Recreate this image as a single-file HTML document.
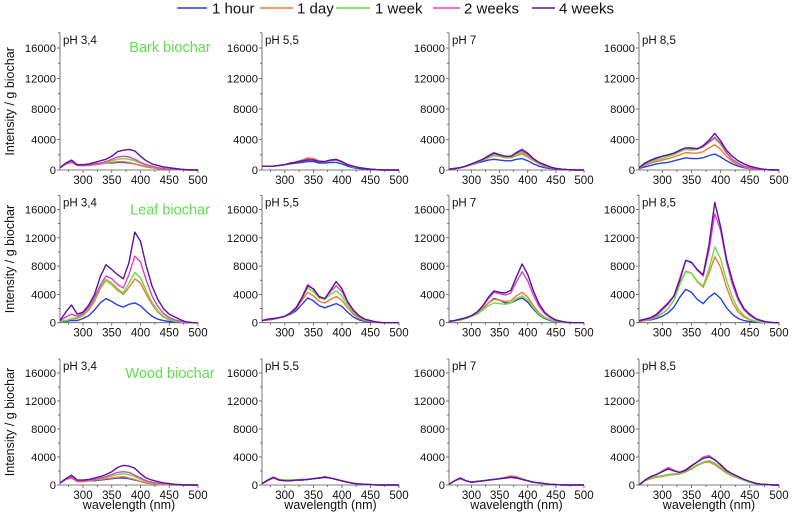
<!DOCTYPE html>
<html><head><meta charset="utf-8"><style>
html,body{margin:0;padding:0;background:#fff;}
svg{display:block;font-family:"Liberation Sans",Arial,sans-serif;}
</style></head><body>
<svg id="chart" width="794" height="514" viewBox="0 0 794 514"></svg>
<script>
// wavelengths 260..500 step 10; intensity values in thousands
const wavelengths = [260,270,280,290,300,310,320,330,340,350,360,370,380,390,400,410,420,430,440,450,460,470,480,490,500];
const seriesNames = ["1 hour","1 day","1 week","2 weeks","4 weeks"];
const seriesColors = ["#2a3fe0","#f07a3a","#66e040","#e040c8","#5a14a0"];
const xTicks = [300,350,400,450,500];
const yTicks = [0,4000,8000,12000,16000];
const rowLabels = ["Bark biochar","Leaf biochar","Wood biochar"];
const colLabels = ["pH 3,4","pH 5,5","pH 7","pH 8,5"];

const barkPh34 = [
 [0.3,0.8,1.0,0.6,0.6,0.6,0.7,0.8,0.9,0.9,1.0,1.0,0.9,0.8,0.6,0.4,0.3,0.2,0.15,0.1,0.05,0.02,0,0,0],
 [0.3,0.8,1.0,0.6,0.6,0.6,0.7,0.8,0.9,1.0,1.1,1.1,1.0,0.8,0.6,0.4,0.3,0.2,0.15,0.1,0.05,0.02,0,0,0],
 [0.3,0.8,1.1,0.6,0.6,0.7,0.8,0.9,1.0,1.2,1.4,1.5,1.4,1.2,0.9,0.6,0.4,0.3,0.2,0.1,0.05,0.02,0,0,0],
 [0.3,0.8,1.1,0.6,0.6,0.7,0.8,0.9,1.1,1.4,1.7,1.8,1.7,1.4,1.0,0.7,0.5,0.3,0.2,0.15,0.1,0.05,0.02,0,0],
 [0.3,0.9,1.3,0.7,0.7,0.8,1.0,1.2,1.4,1.8,2.4,2.6,2.7,2.5,1.8,1.2,0.8,0.6,0.4,0.3,0.2,0.1,0.05,0.02,0]];
const barkPh55 = [
 [0.5,0.5,0.5,0.6,0.7,0.8,0.9,1.0,1.1,1.1,0.9,0.9,1.0,1.0,0.8,0.5,0.3,0.2,0.1,0.05,0.02,0,0,0,0],
 [0.5,0.5,0.5,0.6,0.7,0.9,1.1,1.3,1.6,1.5,1.2,1.1,1.3,1.3,1.1,0.7,0.4,0.3,0.2,0.1,0.05,0.02,0,0,0],
 [0.5,0.5,0.5,0.6,0.7,0.9,1.0,1.2,1.4,1.3,1.1,1.1,1.2,1.3,1.0,0.7,0.4,0.3,0.2,0.1,0.05,0.02,0,0,0],
 [0.5,0.5,0.5,0.6,0.7,0.9,1.0,1.2,1.4,1.4,1.1,1.1,1.3,1.3,1.1,0.7,0.5,0.3,0.2,0.1,0.05,0.02,0,0,0],
 [0.5,0.5,0.5,0.6,0.7,0.9,1.0,1.2,1.3,1.3,1.1,1.1,1.3,1.4,1.1,0.7,0.5,0.3,0.2,0.1,0.05,0.02,0,0,0]];
const barkPh7 = [
 [0.1,0.2,0.3,0.5,0.7,0.9,1.1,1.3,1.4,1.3,1.2,1.2,1.4,1.5,1.2,0.8,0.5,0.3,0.2,0.1,0.05,0.02,0,0,0],
 [0.1,0.2,0.3,0.5,0.7,1.0,1.3,1.6,1.9,1.8,1.6,1.6,1.9,2.1,1.7,1.2,0.8,0.5,0.3,0.2,0.1,0.05,0.02,0,0],
 [0.1,0.2,0.3,0.5,0.8,1.0,1.3,1.7,2.0,1.9,1.7,1.7,2.0,2.3,1.8,1.3,0.9,0.6,0.4,0.2,0.1,0.05,0.02,0,0],
 [0.1,0.2,0.3,0.5,0.8,1.1,1.4,1.9,2.3,2.0,1.8,1.8,2.2,2.5,2.0,1.4,1.0,0.7,0.4,0.2,0.1,0.05,0.02,0,0],
 [0.1,0.2,0.3,0.5,0.8,1.1,1.4,1.8,2.2,2.0,1.8,1.8,2.3,2.7,2.2,1.5,1.0,0.7,0.4,0.2,0.1,0.05,0.02,0,0]];
const barkPh85 = [
 [0.2,0.4,0.6,0.8,0.9,1.0,1.2,1.4,1.6,1.5,1.5,1.6,1.9,2.1,1.7,1.2,0.8,0.5,0.3,0.2,0.1,0.05,0.02,0,0],
 [0.3,0.6,0.9,1.1,1.3,1.5,1.7,2.0,2.3,2.2,2.2,2.4,2.9,3.3,2.7,1.8,1.1,0.7,0.4,0.2,0.1,0.05,0.02,0,0],
 [0.3,0.7,1.0,1.3,1.5,1.8,2.0,2.4,2.7,2.6,2.7,3.0,3.6,4.1,3.3,2.2,1.3,0.8,0.5,0.3,0.1,0.05,0.02,0,0],
 [0.3,0.8,1.2,1.5,1.8,2.0,2.2,2.6,2.9,2.8,2.8,3.1,3.7,4.3,3.5,2.3,1.4,0.9,0.5,0.3,0.15,0.05,0.02,0,0],
 [0.3,0.9,1.3,1.6,1.8,2.0,2.2,2.6,2.9,2.9,2.8,3.2,3.9,4.8,3.8,2.6,1.8,1.2,0.8,0.5,0.3,0.15,0.05,0.02,0]];
const leafPh34 = [
 [0.2,0.2,0.3,0.3,0.6,1.0,1.8,2.8,3.4,3.0,2.5,2.2,2.6,2.8,2.4,1.6,0.9,0.5,0.3,0.15,0.05,0.02,0,0,0],
 [0.2,0.3,0.5,0.6,1.0,1.8,3.0,4.8,6.0,5.4,4.6,4.0,5.0,6.2,5.6,4.0,2.6,1.5,0.8,0.4,0.2,0.1,0.05,0,0],
 [0.2,0.3,0.6,0.7,1.1,2.0,3.3,5.0,6.1,5.6,4.8,4.2,5.6,7.1,6.3,4.5,2.9,1.7,0.9,0.5,0.2,0.1,0.05,0,0],
 [0.3,0.8,1.2,0.9,1.3,2.2,3.6,5.3,6.6,6.2,5.4,4.9,6.8,9.4,8.6,6.0,3.8,2.3,1.3,0.7,0.4,0.2,0.05,0,0],
 [0.3,1.5,2.5,1.2,1.5,2.5,4.0,6.5,8.2,7.5,6.8,6.2,8.5,12.8,11.5,8.0,5.2,3.3,2.0,1.2,0.8,0.4,0.1,0.02,0]];
const leafPh55 = [
 [0.3,0.4,0.5,0.7,0.9,1.2,1.7,2.6,3.5,3.1,2.4,2.1,2.4,2.7,2.3,1.5,0.8,0.4,0.2,0.1,0.05,0,0,0,0],
 [0.3,0.4,0.5,0.7,0.9,1.3,2.0,3.2,4.3,3.8,3.0,2.8,3.3,3.7,3.2,2.1,1.2,0.6,0.3,0.15,0.05,0,0,0,0],
 [0.3,0.4,0.5,0.7,0.9,1.4,2.1,3.5,4.9,4.4,3.5,3.3,4.0,4.5,3.8,2.5,1.4,0.8,0.4,0.2,0.05,0,0,0,0],
 [0.3,0.4,0.5,0.7,0.9,1.4,2.2,3.6,5.4,4.7,3.6,3.4,4.4,5.2,4.4,2.9,1.7,0.9,0.5,0.2,0.1,0,0,0,0],
 [0.3,0.5,0.6,0.7,0.9,1.4,2.1,3.5,5.2,4.8,3.7,3.4,4.6,5.8,4.8,3.0,1.8,1.0,0.5,0.3,0.1,0.02,0,0,0]];
const leafPh7 = [
 [0.2,0.3,0.4,0.6,0.9,1.3,2.0,2.8,3.4,3.2,2.8,2.8,3.2,3.5,2.9,1.9,1.1,0.6,0.3,0.15,0.05,0,0,0,0],
 [0.2,0.3,0.4,0.6,0.9,1.3,2.0,2.8,3.3,3.2,3.0,3.1,3.8,4.3,3.6,2.4,1.4,0.8,0.4,0.2,0.1,0,0,0,0],
 [0.2,0.3,0.4,0.6,0.9,1.2,1.8,2.4,2.8,2.7,2.6,2.8,3.4,3.8,3.2,2.1,1.2,0.7,0.4,0.2,0.1,0,0,0,0],
 [0.2,0.3,0.5,0.7,1.0,1.5,2.3,3.4,4.3,4.1,3.9,4.2,5.8,7.2,5.9,3.9,2.3,1.3,0.7,0.3,0.15,0.05,0,0,0],
 [0.2,0.3,0.5,0.7,1.0,1.5,2.4,3.6,4.5,4.3,4.2,4.6,6.5,8.3,6.8,4.5,2.7,1.5,0.8,0.4,0.2,0.05,0,0,0]];
const leafPh85 = [
 [0.2,0.3,0.4,0.6,0.9,1.4,2.2,3.6,4.7,4.3,3.3,2.7,3.6,4.2,3.4,2.1,1.2,0.6,0.3,0.15,0.05,0,0,0,0],
 [0.2,0.3,0.5,0.8,1.3,2.0,3.2,5.5,7.3,7.0,5.8,5.0,7.0,9.3,7.8,5.0,2.9,1.5,0.8,0.4,0.2,0.05,0,0,0],
 [0.2,0.3,0.5,0.8,1.3,2.0,3.2,5.4,7.2,7.0,5.9,5.2,7.6,10.7,9.0,6.0,3.6,1.9,1.0,0.5,0.2,0.05,0,0,0],
 [0.2,0.4,0.6,1.0,1.8,2.6,3.8,6.3,8.8,8.6,7.4,6.6,10.2,15.4,13.0,8.6,5.4,3.2,1.8,1.0,0.5,0.2,0.05,0,0],
 [0.3,0.5,0.7,1.2,2.0,2.8,3.8,6.0,8.8,8.5,7.5,6.8,11.0,17.0,13.5,9.0,6.0,3.5,2.0,1.2,0.6,0.3,0.1,0.02,0]];
const woodPh34 = [
 [0.3,0.8,1.0,0.5,0.5,0.6,0.6,0.7,0.8,0.9,1.0,1.0,0.9,0.7,0.5,0.3,0.2,0.1,0.05,0.02,0,0,0,0,0],
 [0.3,0.8,1.0,0.5,0.5,0.6,0.7,0.8,0.9,1.0,1.1,1.2,1.0,0.8,0.5,0.3,0.2,0.1,0.05,0.02,0,0,0,0,0],
 [0.3,0.8,1.1,0.6,0.6,0.7,0.8,0.9,1.1,1.3,1.5,1.6,1.5,1.2,0.8,0.5,0.3,0.2,0.1,0.05,0.02,0,0,0,0],
 [0.3,0.8,1.1,0.6,0.6,0.7,0.8,1.0,1.2,1.5,1.8,1.9,1.8,1.4,1.0,0.6,0.4,0.3,0.2,0.1,0.05,0.02,0,0,0],
 [0.3,0.9,1.4,0.7,0.7,0.8,1.0,1.2,1.5,1.9,2.5,2.8,2.7,2.4,1.6,1.0,0.7,0.5,0.3,0.2,0.1,0.05,0.02,0,0]];
const woodPh55 = [
 [0.2,0.7,1.1,0.8,0.7,0.7,0.7,0.8,0.8,0.9,1.0,1.1,1.0,0.8,0.6,0.4,0.25,0.15,0.1,0.05,0.02,0,0,0,0],
 [0.2,0.7,1.1,0.8,0.7,0.7,0.7,0.7,0.8,0.9,1.0,1.1,1.0,0.8,0.6,0.4,0.25,0.15,0.1,0.05,0.02,0,0,0,0],
 [0.2,0.7,1.0,0.8,0.7,0.7,0.7,0.7,0.8,0.9,1.0,1.1,1.0,0.8,0.6,0.4,0.25,0.15,0.1,0.05,0.02,0,0,0,0],
 [0.2,0.6,1.0,0.7,0.6,0.6,0.7,0.7,0.8,0.9,1.0,1.2,1.0,0.8,0.6,0.4,0.25,0.15,0.1,0.05,0.02,0,0,0,0],
 [0.2,0.7,1.1,0.7,0.6,0.6,0.7,0.7,0.8,0.9,1.0,1.1,1.0,0.8,0.6,0.4,0.25,0.15,0.1,0.05,0.02,0,0,0,0]];
const woodPh7 = [
 [0.1,0.6,1.0,0.6,0.4,0.5,0.6,0.7,0.8,0.9,1.0,1.1,1.0,0.8,0.6,0.4,0.3,0.2,0.1,0.05,0.02,0,0,0,0],
 [0.1,0.6,0.9,0.6,0.4,0.5,0.6,0.7,0.8,0.9,1.1,1.3,1.2,0.9,0.6,0.4,0.3,0.2,0.1,0.05,0.02,0,0,0,0],
 [0.1,0.6,0.9,0.6,0.4,0.5,0.6,0.7,0.8,0.9,1.0,1.2,1.1,0.9,0.6,0.4,0.3,0.2,0.1,0.05,0.02,0,0,0,0],
 [0.1,0.6,0.9,0.6,0.4,0.5,0.6,0.7,0.8,0.9,1.0,1.2,1.1,0.8,0.6,0.4,0.3,0.2,0.1,0.05,0.02,0,0,0,0],
 [0.1,0.6,1.0,0.6,0.4,0.5,0.6,0.7,0.8,0.9,1.0,1.1,1.0,0.8,0.6,0.4,0.3,0.2,0.1,0.05,0.02,0,0,0,0]];
const woodPh85 = [
 [0,0.6,1.0,1.2,1.3,1.5,1.5,1.6,1.9,2.3,2.8,3.2,3.4,3.0,2.4,1.8,1.3,1.0,0.7,0.4,0.2,0.1,0.05,0,0],
 [0,0.6,0.9,1.1,1.2,1.4,1.5,1.6,1.9,2.3,2.8,3.2,3.3,2.9,2.3,1.7,1.3,1.0,0.7,0.4,0.2,0.1,0.05,0,0],
 [0,0.6,1.0,1.2,1.3,1.5,1.6,1.7,2.0,2.4,2.9,3.3,3.5,3.1,2.5,1.8,1.4,1.0,0.7,0.4,0.2,0.1,0.05,0,0],
 [0,0.7,1.2,1.5,2.0,2.5,2.1,1.8,2.2,2.8,3.3,4.0,4.2,3.6,2.8,2.0,1.6,1.2,0.8,0.5,0.25,0.1,0.05,0,0],
 [0,0.7,1.2,1.5,1.9,2.3,2.0,1.8,2.1,2.7,3.3,3.8,4.0,3.6,2.9,2.1,1.6,1.2,0.8,0.5,0.25,0.1,0.05,0,0]];

const panelData = [[barkPh34,barkPh55,barkPh7,barkPh85],[leafPh34,leafPh55,leafPh7,leafPh85],[woodPh34,woodPh55,woodPh7,woodPh85]];

const NS="http://www.w3.org/2000/svg";
const svg=document.getElementById('chart');
function mk(tag,attrs,parent){const e=document.createElementNS(NS,tag);for(const k in attrs)e.setAttribute(k,attrs[k]);(parent||svg).appendChild(e);return e;}

const rowGeom=[{y0:170,y16:48},{y0:322.7,y16:209.5},{y0:485,y16:373}];
const colGeom=[{l:60,r:198},{l:262,r:399},{l:449,r:584},{l:639,r:779}];

// legend
const legendX=[[177,207,212],[260,293,297],[336,370,375],[433,460,464],[532,555,559]];
for(let s=0;s<5;s++){
  const g=mk('g',{});
  
  
  mk('line',{x1:legendX[s][0],x2:legendX[s][1],y1:8,y2:8,stroke:seriesColors[s],'stroke-width':1.5},g);
  const t=mk('text',{x:legendX[s][2],y:13.5,'font-size':15,fill:'#111'},g);
  t.textContent=seriesNames[s];
}

for(let r=0;r<3;r++){
  for(let c=0;c<4;c++){
    const R=rowGeom[r],C=colGeom[c];
    const py=v=>R.y0-(v/16000)*(R.y0-R.y16);
    const px=w=>C.l+(w-260)/240*(C.r-C.l);
    const top=py(18000);
    const g=mk('g',{});
    
    
    const ax=mk('path',{d:`M${C.l},${top}V${R.y0}H${C.r}`,fill:'none',stroke:'#555','stroke-width':0.8},g);
    
    
    for(let v=0;v<=18000;v+=2000){
      const major=v%4000===0;
      mk('line',{x1:C.l-(major?3:2),x2:C.l,y1:py(v),y2:py(v),stroke:'#555','stroke-width':0.8},g);
    }
    for(const v of yTicks){
      const t=mk('text',{x:C.l-4,y:py(v)+4,'font-size':11.2,'text-anchor':'end',fill:'#111'},g);
      
      
      t.textContent=v;
    }
    for(let w=275;w<=500;w+=25){
      const major=w%50===0;
      mk('line',{x1:px(w),x2:px(w),y1:R.y0,y2:R.y0+(major?3:2),stroke:'#555','stroke-width':0.8},g);
    }
    for(const w of xTicks){
      const t=mk('text',{x:px(w),y:R.y0+14,'font-size':11.5,'text-anchor':'middle',fill:'#111'},g);
      
      
      t.textContent=w;
    }
    const pl=mk('text',{x:C.l+3,y:top+11,'font-size':11.5,fill:'#111'},g);
    
    
    pl.textContent=colLabels[c];
    const data=panelData[r][c];
    for(let s=0;s<5;s++){
      const pts=wavelengths.map((w,i)=>px(w).toFixed(1)+','+py(data[s][i]*1000).toFixed(1)).join(' ');
      const line=mk('polyline',{points:pts,fill:'none',stroke:seriesColors[s],'stroke-width':1.4,'stroke-linejoin':'round'},g);
      
      
    }
    if(r===2){
      const xl=mk('text',{x:(C.l+C.r)/2,y:509,'font-size':12.5,'text-anchor':'middle',fill:'#111'},g);
      
      
      xl.textContent='wavelength (nm)';
    }
    if(c===0){
      const cy=(top+R.y0)/2;
      const yl=mk('text',{x:14,y:cy,'font-size':12.5,'text-anchor':'middle',fill:'#111',transform:`rotate(-90 14 ${cy})`},g);
      
      
      yl.textContent='Intensity / g biochar';
      const rl=mk('text',{x:170,y:top+19,'font-size':14.5,'text-anchor':'middle',fill:'#5ee04a'},g);
      
      
      rl.textContent=rowLabels[r];
    }
  }
}
</script>
</body></html>
